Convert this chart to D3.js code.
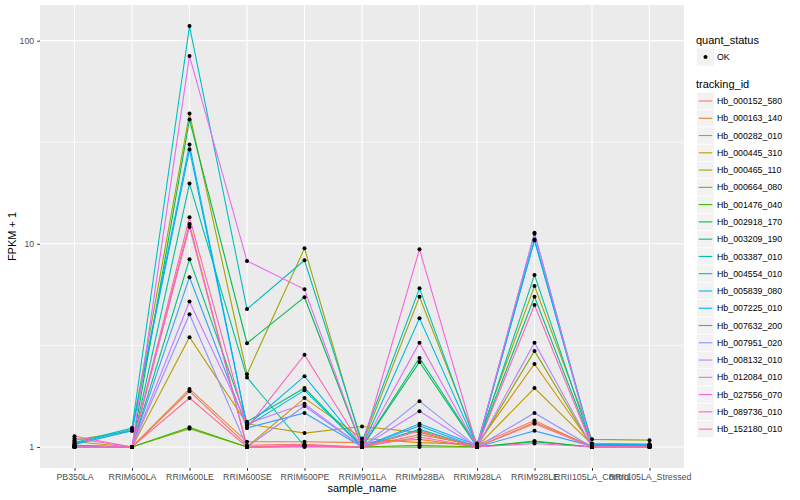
<!DOCTYPE html>
<html>
<head>
<meta charset="utf-8">
<script src="https://cdn.jsdelivr.net/npm/d3@7"></script>
<style>
  body { margin: 0; background: #fff; }
  text { font-family: "Liberation Sans", Arial, sans-serif; }
</style>
</head>
<body>
<svg id="chart" width="800" height="500"></svg>
<script>
// samples on the x axis
const samples = ["PB350LA", "RRIM600LA", "RRIM600LE", "RRIM600SE", "RRIM600PE", "RRIM901LA",
    "RRIM928BA", "RRIM928LA", "RRIM928LE", "RRII105LA_Control", "RRII105LA_Stressed"];

const trackingIds = ["Hb_000152_580", "Hb_000163_140", "Hb_000282_010", "Hb_000445_310", "Hb_000465_110",
    "Hb_000664_080", "Hb_001476_040", "Hb_002918_170", "Hb_003209_190", "Hb_003387_010",
    "Hb_004554_010", "Hb_005839_080", "Hb_007225_010", "Hb_007632_200", "Hb_007951_020",
    "Hb_008132_010", "Hb_012084_010", "Hb_027556_070", "Hb_089736_010", "Hb_152180_010"];

// FPKM + 1, one array per gene, same order as samples
const hb_000152_580 = [1.0, 1.0, 1.88, 1.02, 1.03, 1.0, 1.15, 1.02, 1.35, 1.0, 1.0];
const hb_000163_140 = [1.0, 1.0, 1.93, 1.06, 1.06, 1.05, 1.09, 1.0, 1.32, 1.01, 1.0];
const hb_000282_010 = [1.02, 1.0, 12.5, 1.0, 1.74, 1.1, 1.05, 1.03, 2.56, 1.02, 1.01];
const hb_000445_310 = [1.06, 1.0, 3.47, 1.3, 1.17, 1.26, 1.18, 1.0, 1.95, 1.03, 1.02];
const hb_000465_110 = [1.08, 1.2, 43.8, 2.28, 9.5, 1.02, 5.48, 1.04, 6.2, 1.09, 1.08];
const hb_000664_080 = [1.0, 1.0, 1.23, 1.0, 1.0, 1.0, 1.02, 1.0, 2.97, 1.0, 1.0];
const hb_001476_040 = [1.0, 1.0, 1.25, 1.0, 1.01, 1.0, 1.0, 1.0, 1.07, 1.0, 1.0];
const hb_002918_170 = [1.0, 1.0, 40.9, 3.24, 5.46, 1.0, 2.62, 1.0, 1.06, 1.0, 1.0];
const hb_003209_190 = [1.01, 1.0, 8.4, 1.33, 1.95, 1.0, 2.74, 1.01, 5.48, 1.02, 1.01];
const hb_003387_010 = [1.02, 1.0, 19.8, 2.2, 1.01, 1.0, 1.22, 1.0, 7.03, 1.02, 1.02];
const hb_004554_010 = [1.05, 1.24, 118, 4.77, 8.3, 1.06, 6.04, 1.0, 10.5, 1.04, 1.03];
const hb_005839_080 = [1.04, 1.22, 30.8, 1.27, 1.9, 1.0, 4.3, 1.0, 11.2, 1.03, 1.03];
const hb_007225_010 = [1.03, 1.2, 29.1, 1.27, 2.23, 1.0, 1.3, 1.02, 10.4, 1.03, 1.02];
const hb_007632_200 = [1.0, 1.0, 6.85, 1.24, 1.47, 1.0, 1.27, 1.0, 1.2, 1.01, 1.01];
const hb_007951_020 = [1.0, 1.0, 4.5, 1.0, 1.59, 1.0, 1.68, 1.0, 1.47, 1.0, 1.0];
const hb_008132_010 = [1.0, 1.0, 5.2, 1.3, 1.63, 1.0, 1.5, 1.0, 3.26, 1.0, 1.0];
const hb_012084_010 = [1.0, 1.0, 84, 8.23, 5.97, 1.0, 3.26, 1.0, 11.35, 1.0, 1.0];
const hb_027556_070 = [1.1, 1.0, 12.1, 1.0, 1.01, 1.0, 9.4, 1.0, 1.04, 1.0, 1.0];
const hb_089736_010 = [1.13, 1.0, 13.5, 1.24, 2.84, 1.0, 1.12, 1.0, 5.0, 1.0, 1.0];
const hb_152180_010 = [1.0, 1.0, 1.74, 1.0, 1.02, 1.0, 1.2, 1.0, 1.3, 1.0, 1.0];

const yTicks = [1, 10, 100];
const yMinor = [Math.sqrt(10), Math.sqrt(1000)];

// ggplot default hue palette for 20 levels
const palette = ["#F8766D", "#EA8331", "#D89000", "#C09B00", "#A3A500", "#7CAE00", "#39B600",
    "#00BB4E", "#00BF7D", "#00C1A3", "#00BFC4", "#00BAE0", "#00B0F6", "#35A2FF", "#9590FF",
    "#C77CFF", "#E76BF3", "#FA62DB", "#FF62BC", "#FF6C91"];

const allValues = [hb_000152_580, hb_000163_140, hb_000282_010, hb_000445_310, hb_000465_110,
    hb_000664_080, hb_001476_040, hb_002918_170, hb_003209_190, hb_003387_010,
    hb_004554_010, hb_005839_080, hb_007225_010, hb_007632_200, hb_007951_020,
    hb_008132_010, hb_012084_010, hb_027556_070, hb_089736_010, hb_152180_010];

const series = trackingIds.map((id, i) => ({
    id: id,
    values: allValues[i].map((v, j) => ({ sample: samples[j], value: v }))
}));

const svg = d3.select("#chart");
const panel = { left: 40, right: 684, top: 5, bottom: 468 };

// discrete x with ggplot's 0.6 unit padding
const x = d3.scalePoint()
    .domain(samples)
    .range([panel.left, panel.right])
    .padding(0.6);

// log y with 5% expansion
const flat = allValues.flat();
const lo = Math.log10(d3.min(flat)), hi = Math.log10(d3.max(flat));
const pad = (hi - lo) * 0.05;
const y = d3.scaleLog()
    .domain([Math.pow(10, lo - pad), Math.pow(10, hi + pad)])
    .range([panel.bottom, panel.top]);

const color = d3.scaleOrdinal().domain(trackingIds).range(palette);

// panel background + grid
svg.append("rect")
    .attr("x", panel.left).attr("y", panel.top)
    .attr("width", panel.right - panel.left)
    .attr("height", panel.bottom - panel.top)
    .attr("fill", "#EBEBEB");

const grid = svg.append("g");
grid.selectAll(".minor")
    .data(yMinor)
    .enter().append("line")
    .attr("x1", panel.left).attr("x2", panel.right)
    .attr("y1", d => y(d)).attr("y2", d => y(d))
    .attr("stroke", "#fff").attr("stroke-width", 0.55);
grid.selectAll(".major")
    .data(yTicks)
    .enter().append("line")
    .attr("x1", panel.left).attr("x2", panel.right)
    .attr("y1", d => y(d)).attr("y2", d => y(d))
    .attr("stroke", "#fff").attr("stroke-width", 1.1);
grid.selectAll(".vert")
    .data(samples)
    .enter().append("line")
    .attr("x1", d => x(d)).attr("x2", d => x(d))
    .attr("y1", panel.top).attr("y2", panel.bottom)
    .attr("stroke", "#fff").attr("stroke-width", 1.1);

// lines
const line = d3.line()
    .x(d => x(d.sample))
    .y(d => y(d.value));

svg.append("g")
    .selectAll("path")
    .data(series)
    .enter().append("path")
    .attr("d", d => line(d.values))
    .attr("fill", "none")
    .attr("stroke", d => color(d.id))
    .attr("stroke-width", 1.1);

// points
svg.append("g")
    .selectAll("g")
    .data(series)
    .enter().append("g")
    .selectAll("circle")
    .data(d => d.values)
    .enter().append("circle")
    .attr("cx", d => x(d.sample))
    .attr("cy", d => y(d.value))
    .attr("r", 2)
    .attr("fill", "#000");

// axes
const xAxis = svg.append("g")
    .attr("transform", `translate(0,${panel.bottom})`)
    .call(d3.axisBottom(x).tickSize(2.75).tickPadding(3));
const yAxis = svg.append("g")
    .attr("transform", `translate(${panel.left},0)`)
    .call(d3.axisLeft(y).tickValues(yTicks).tickFormat(d3.format("d")).tickSize(2.75).tickPadding(3));

[xAxis, yAxis].forEach(a => {
    a.select(".domain").remove();
    a.selectAll(".tick line").attr("stroke", "#333").attr("stroke-width", 1);
    a.selectAll(".tick text")
        .attr("fill", "#4D4D4D")
        .style("font-size", "8.8px")
        .style("font-family", "'Liberation Sans', Arial, sans-serif");
});

svg.append("text")
    .attr("x", (panel.left + panel.right) / 2)
    .attr("y", 492)
    .attr("text-anchor", "middle")
    .style("font-size", "11px")
    .text("sample_name");

svg.append("text")
    .attr("transform", `translate(16,${(panel.top + panel.bottom) / 2}) rotate(-90)`)
    .attr("text-anchor", "middle")
    .style("font-size", "11px")
    .text("FPKM + 1");

// legend
const legend = svg.append("g").attr("transform", "translate(696,0)");
legend.append("text").attr("x", 0).attr("y", 44).style("font-size", "11px").text("quant_status");
legend.append("rect").attr("x", 1).attr("y", 48.5).attr("width", 17).attr("height", 17).attr("fill", "#F2F2F2");
legend.append("circle").attr("cx", 9.5).attr("cy", 57).attr("r", 2).attr("fill", "#000");
legend.append("text").attr("x", 21).attr("y", 60).style("font-size", "8.8px").text("OK");

legend.append("text").attr("x", 0).attr("y", 88).style("font-size", "11px").text("tracking_id");
const keyStep = 17.27;
const keys = legend.selectAll(".key")
    .data(trackingIds)
    .enter().append("g")
    .attr("transform", (d, i) => `translate(0,${101 + i * keyStep})`);
keys.append("rect")
    .attr("x", 1).attr("y", -8.5).attr("width", 17).attr("height", 17)
    .attr("fill", "#F2F2F2").attr("stroke", "#fff").attr("stroke-width", 0.5);
keys.append("line")
    .attr("x1", 2.7).attr("x2", 16.3)
    .attr("y1", 0).attr("y2", 0)
    .attr("stroke", d => color(d)).attr("stroke-width", 1.1);
keys.append("text")
    .attr("x", 21).attr("y", 3.1)
    .style("font-size", "8.8px")
    .text(d => d);
</script>
</body>
</html>
